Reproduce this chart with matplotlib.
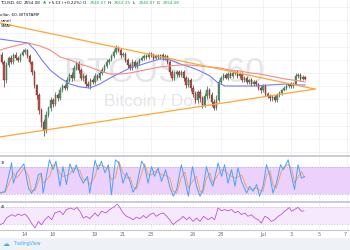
import numpy as np
import pandas as pd
import matplotlib
matplotlib.use("Agg")
import matplotlib.pyplot as plt
from matplotlib.patches import Rectangle
from matplotlib.lines import Line2D

# ---------------- data (hours counted from 12 June 2017 00:00) ----------------
first_open = 2740
closes = [2736, 2683, 2547, 2660, 2713, 2683, 2736, 2713, 2698, 2736, 2759, 2774,
          2729, 2683, 2607, 2509, 2433, 2319, 2228, 2168, 2281, 2334, 2395, 2365,
          2433, 2410, 2471, 2501, 2486, 2547, 2584, 2562, 2638, 2675, 2622, 2562,
          2577, 2516, 2501, 2547, 2531, 2577, 2562, 2600, 2622, 2653, 2683, 2698,
          2729, 2759, 2789, 2774, 2736, 2744, 2698, 2660, 2638, 2683, 2653, 2675,
          2698, 2713, 2729, 2721, 2744, 2736, 2713, 2729, 2721, 2736, 2713, 2729,
          2683, 2607, 2562, 2592, 2607, 2584, 2607, 2562, 2509, 2547, 2486, 2440,
          2395, 2456, 2410, 2357, 2425, 2471, 2433, 2380, 2334, 2395, 2531, 2562,
          2584, 2562, 2592, 2577, 2600, 2607, 2577, 2592, 2547, 2562, 2531, 2547,
          2516, 2531, 2516, 2486, 2471, 2501, 2440, 2425, 2410, 2418, 2395, 2433,
          2448, 2471, 2486, 2501, 2516, 2501, 2516, 2577, 2584, 2554, 2569, 2554]
upper_wick = [14, 22, 18, 25, 12, 20, 16, 24, 15, 19, 21, 17,
              10, 12, 9, 14, 11, 16, 13, 20, 28, 18, 22, 15,
              25, 17, 21, 14, 19, 23, 16, 20, 24, 18, 12, 15,
              19, 14, 22, 17, 13, 20, 16, 18, 21, 15, 19, 17,
              14, 23, 20, 16, 18, 13, 15, 12, 19, 22, 14, 17,
              16, 13, 18, 15, 12, 14, 17, 13, 15, 11, 14, 12,
              10, 15, 18, 20, 13, 17, 15, 12, 16, 22, 14, 19,
              24, 18, 21, 16, 23, 27, 15, 20, 25, 38, 18, 14,
              16, 12, 15, 13, 17, 11, 14, 16, 12, 15, 13, 10,
              14, 12, 15, 11, 17, 13, 16, 12, 18, 14, 15, 12,
              13, 11, 14, 12, 10, 13, 18, 22, 15, 12, 14, 8]
lower_wick = [16, 12, 53, 20, 14, 18, 12, 15, 17, 13, 11, 14,
              15, 18, 22, 25, 28, 30, 34, 46, 22, 18, 24, 20,
              16, 21, 15, 17, 19, 14, 16, 22, 13, 15, 20, 18,
              24, 19, 16, 21, 17, 14, 18, 15, 13, 16, 12, 14,
              11, 13, 15, 17, 19, 14, 16, 20, 18, 13, 15, 12,
              14, 11, 13, 16, 12, 15, 13, 11, 14, 12, 15, 13,
              17, 22, 18, 15, 20, 16, 14, 21, 25, 18, 22, 26,
              20, 24, 28, 19, 15, 22, 26, 30, 17, 14, 13, 12,
              15, 11, 14, 13, 12, 16, 14, 12, 15, 13, 17, 14,
              16, 18, 15, 14, 20, 17, 16, 14, 19, 22, 15, 13,
              12, 14, 11, 13, 15, 12, 14, 10, 13, 12, 11, 9]
candle_hours = list(range(4, 532, 4))

ma_fast_hours = [5, 29, 53, 65, 77, 91, 108, 125, 142, 159, 176, 194, 211, 228, 245,
                 262, 279, 297, 314, 331, 348, 365, 379, 391, 416, 442, 468, 494, 519, 528]
ma_fast = [2857, 2842, 2827, 2774, 2698, 2622, 2562, 2516, 2494, 2486, 2516, 2562, 2600,
           2638, 2660, 2683, 2706, 2698, 2668, 2645, 2615, 2577, 2524, 2501, 2501, 2501,
           2509, 2516, 2509, 2509]
ma_slow_hours = [5, 29, 53, 74, 91, 108, 125, 142, 159, 176, 194, 211, 228, 245, 262,
                 279, 297, 314, 331, 348, 365, 382, 399, 416, 434, 451, 468, 494, 519, 528]
ma_slow = [2774, 2804, 2827, 2804, 2774, 2721, 2698, 2668, 2645, 2615, 2592, 2592, 2600,
           2615, 2630, 2645, 2653, 2660, 2660, 2653, 2645, 2638, 2622, 2615, 2600, 2592,
           2577, 2554, 2539, 2531]

trend_hours = [5, 545]
trend_upper = [2979, 2478]
trend_lower = [2115, 2478]

stoch_hours = [5, 14, 25, 28, 34, 46, 54, 59, 65, 71, 76, 79, 90, 96, 101, 108, 113, 119,
               125, 131, 136, 142, 148, 155, 159, 168, 173, 179, 185, 191, 196, 203, 209,
               216, 222, 228, 233, 239, 248, 253, 259, 265, 270, 276, 282, 289, 296, 302,
               308, 316, 322, 328, 335, 342, 348, 353, 359, 365, 370, 379, 385, 390, 396,
               402, 408, 413, 419, 428, 433, 439, 445, 450, 456, 462, 468, 473, 479, 486,
               491, 499, 505, 510, 516, 522, 527]
stoch_k = [22, 26, 89, 44, 67, 87, 33, 22, 33, 63, 66, 22, 96, 74, 93, 37, 81, 41, 87, 67,
           85, 59, 44, 59, 22, 95, 74, 93, 67, 85, 18, 96, 89, 44, 67, 48, 24, 37, 93, 81,
           44, 81, 59, 78, 48, 74, 37, 15, 30, 85, 52, 15, 81, 37, 15, 30, 81, 52, 37, 89,
           59, 85, 44, 74, 37, 78, 48, 22, 37, 26, 41, 15, 37, 85, 59, 22, 44, 85, 74, 96,
           59, 30, 85, 55, 59]

rsi_hours = [5, 11, 16, 25, 31, 36, 42, 48, 54, 59, 65, 71, 76, 82, 88, 94, 99, 108, 113,
             119, 126, 132, 137, 142, 148, 153, 159, 168, 173, 179, 187, 193, 202, 206,
             211, 216, 222, 229, 233, 239, 245, 251, 256, 262, 268, 273, 279, 285, 291,
             296, 302, 308, 313, 319, 325, 330, 336, 342, 348, 354, 362, 368, 373, 379,
             385, 390, 396, 402, 408, 413, 419, 425, 430, 436, 442, 448, 453, 459, 465,
             470, 476, 482, 487, 493, 497, 501, 505, 510, 516, 522, 526]
rsi = [28.4, 32, 44, 52, 48, 53.5, 50, 53.5, 44, 32, 20.6, 36, 28, 40, 48, 40, 56, 60, 52,
       64, 67.6, 64, 69, 60, 44, 48, 42.5, 56, 48, 60, 56, 64, 71.6, 77, 67.6, 56, 48, 44,
       40, 46, 42.5, 50, 44, 52, 56, 48, 53.5, 56, 48, 40, 28.4, 36, 40, 48, 40, 46, 36,
       44, 36, 48, 40, 46, 40, 67.6, 61, 64, 61, 64, 56, 60, 52, 56, 48, 52, 44, 40, 32,
       48, 44, 36, 40, 48, 52, 60, 64, 69, 60, 64, 69, 60, 61]

tick_hours = [48, 96, 168, 216, 264, 336, 384, 456, 504, 552, 600]
tick_labels = ["14", "16", "19", "21", "23", "26", "28", "Jul", "3", "5", "7"]

# visible part of the (cropped) legend texts
header_parts = [("TCUSD, 60", "#131722"), ("2554.08", "#131722"), ("\u25b2", "#26a65b"),
                ("+5.53 (+0.22%)", "#131722"), ("O:", "#131722"), ("2540.07", "#26a65b"),
                ("H:", "#131722"), ("2562.35", "#26a65b"), ("L:", "#131722"),
                ("2540.07", "#26a65b"), ("C:", "#131722"), ("2554.08", "#26a65b")]

# ---------------- figure ----------------
W, H = 350, 250
fig = plt.figure(figsize=(3.5, 2.5), dpi=100)
fig.patch.set_facecolor("white")


def fy(y):
    return 1 - y / H


def fx(x):
    return x / W


XMIN, XMAX = 5.1, 605.1
grid_c = "#eff1f4"

ax = fig.add_axes([0, fy(155), 1, 155 / H])
ax_s = fig.add_axes([0, fy(201), 1, 44 / H])
ax_r = fig.add_axes([0, fy(229), 1, 26 / H])
for a in (ax, ax_s, ax_r):
    a.set_xlim(XMIN, XMAX)
    for s in a.spines.values():
        s.set_visible(False)
    a.set_yticks([])
    for th in tick_hours:
        a.axvline(th, color=grid_c, lw=0.6, zorder=0)
ax.set_xticks([])
ax_s.set_xticks([])

# main panel
ax.set_ylim(1978, 3153)
for p in range(2000, 3200, 100):
    ax.axhline(p, color=grid_c, lw=0.6, zorder=0)

ax.text(0.47, 1 - 72 / 155, "BTCUSD, 60", transform=ax.transAxes, ha="center", va="center",
        fontsize=25, color="#e4e6ea", family="Liberation Sans", zorder=0.5)
ax.text(0.457, 1 - 102 / 155, "Bitcoin / Dollar", transform=ax.transAxes, ha="center",
        va="center", fontsize=12.5, color="#e4e6ea", family="Liberation Sans", zorder=0.5)

c = np.array(closes, dtype=float)
o = np.r_[first_open, c[:-1]]
hrs = np.array(candle_hours, dtype=float)
hi = np.maximum(o, c) + np.array(upper_wick)
lo = np.minimum(o, c) - np.array(lower_wick)
up = c >= o
face = np.where(up, "#5d9e72", "#c4524a")
edge = np.where(up, "#2b6340", "#6e241d")
ax.vlines(hrs, lo, hi, colors=edge, lw=0.5, zorder=2)
body = np.maximum(np.abs(c - o), 3)
ax.bar(hrs, body, bottom=np.minimum(o, c), width=2.6, color=face, edgecolor=edge,
       linewidth=0.3, zorder=2.5)

ax.plot(ma_fast_hours, ma_fast, color="#7b7bef", lw=0.8, zorder=3)
ax.plot(ma_slow_hours, ma_slow, color="#f28b82", lw=0.8, zorder=3)
ax.plot(trend_hours, trend_upper, color="#ffa733", lw=0.9, zorder=4)
ax.plot(trend_hours, trend_lower, color="#ffa733", lw=0.9, zorder=4)

# stochastic panel
ax_s.set_ylim(4.4, 102.2)
ax_s.axhspan(20, 80, color="#ebd1fc", zorder=0.2, lw=0)
for v in (20, 80):
    ax_s.axhline(v, color="#b9a6c8", lw=0.5, ls=(0, (2, 2)), zorder=0.3)
k = pd.Series(stoch_k, dtype=float)
d = k.rolling(2, min_periods=1).mean()
ax_s.plot(stoch_hours, d, color="#f5a06e", lw=0.7, zorder=2.8)
ax_s.plot(stoch_hours, k, color="#4aa3f5", lw=0.7, zorder=3)

# RSI panel
ax_r.set_ylim(18.2, 79.4)
ax_r.axhspan(30, 70, color="#f6e9fe", zorder=0.2, lw=0)
for v in (30, 70):
    ax_r.axhline(v, color="#c9b8d6", lw=0.5, ls=(0, (2, 2)), zorder=0.3)
ax_r.plot(rsi_hours, rsi, color="#b857d6", lw=0.6, zorder=3)
ax_r.set_xticks(tick_hours)
ax_r.set_xticklabels(tick_labels)
ax_r.tick_params(axis="x", length=0, pad=2.2, labelsize=3.5, labelcolor="#6a6d78")
ax_r.get_xticklabels()[-1].set_ha("right")

# separators & axis line
for y, lw in ((156, 1.3), (202, 1.3), (229.7, 0.8)):
    fig.add_artist(Line2D([0, 1], [fy(y), fy(y)], color="#c5c8cf", lw=lw,
                          transform=fig.transFigure))

# bottom bar
fig.add_artist(Rectangle((0, 0), 1, 12 / H, transform=fig.transFigure,
                         facecolor="#eef1f6", edgecolor="none"))
fig.text(fx(3), fy(244), "\u2601", fontsize=5, color="#4aa8f0", va="center", ha="left")
fig.text(fx(13), fy(244), "TradingView", fontsize=3.3, color="#4aa8f0", va="center",
         ha="left")

# legends / header, laid out one piece after another
renderer = fig.canvas.get_renderer()
xpos = 0.5
for txt, col in header_parts:
    t = fig.text(fx(xpos), fy(3), txt, fontsize=3.0, color=col, va="center", ha="left")
    bb = t.get_window_extent(renderer=renderer)
    xpos += bb.width + 1.8
fig.text(fx(0.5), fy(15), "ollar, 60, BITSTAMP", fontsize=3.0, color="#131722",
         va="center", ha="left")
fig.text(fx(0.5), fy(21), "ume)", fontsize=3.0, color="#131722", va="center", ha="left")
fig.text(fx(0.5), fy(26), "SMA)", fontsize=3.0, color="#131722", va="center", ha="left")
fig.text(fx(0.5), fy(163), "3)", fontsize=3.0, color="#131722", va="center", ha="left")
fig.text(fx(0.5), fy(207), "4)", fontsize=3.0, color="#131722", va="center", ha="left")

fig.savefig("out.png", dpi=100)
